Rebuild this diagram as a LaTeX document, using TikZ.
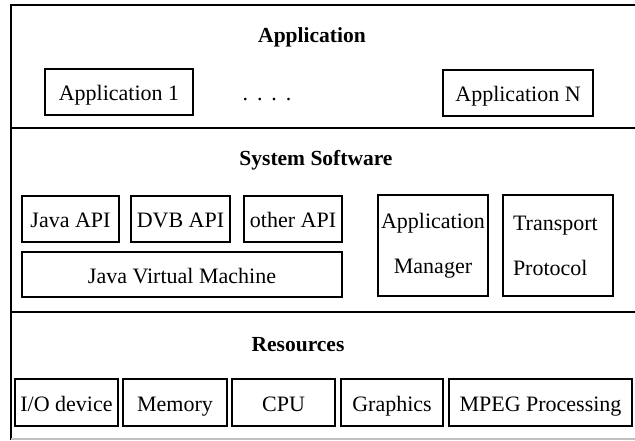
\documentclass[tikz,border=0pt]{standalone}
\usepackage{fontspec}
\setmainfont{Liberation Serif}
\tikzset{
  frameline/.style={line width=1.6pt, black},
  blk/.style={draw, line width=1.6pt, inner sep=0pt, align=center,
              font=\fontsize{22}{45}\selectfont},
  oneline/.style={text height=19pt, text depth=2pt},
  layertitle/.style={font=\fontsize{21.5}{24}\selectfont\bfseries, inner sep=0pt}
}
\begin{document}
\begin{tikzpicture}[x=1pt, y=-1pt]
\useasboundingbox (0,0) rectangle (635,440);

% layer frame
\coordinate (tl) at (11,5);
\coordinate (tr) at (635,5);
\coordinate (bl) at (11,440);
\coordinate (d1l) at (11,128);
\coordinate (d1r) at (635,128);
\coordinate (d2l) at (11,312);
\coordinate (d2r) at (635,312);
\coordinate (bbl) at (11,439);
\coordinate (bbr) at (635,439);
\draw[frameline] (tr) -- (tl) -- (bl);
\draw[frameline] (d1l) -- (d1r);
\draw[frameline] (d2l) -- (d2r);
\draw[line width=1.2pt, black!25] (bbl) -- (bbr);

% application layer
\node[layertitle] (tapp) at (312,37) {Application};
\node[blk, oneline, minimum width=148pt, minimum height=46pt] (app1) at (119,92) {Application 1};
\node[font=\fontsize{22}{24}\selectfont, inner sep=0pt] (dots) at (267,99.5)
  {.\hspace{9pt}.\hspace{9pt}.\hspace{9pt}.};
\node[blk, oneline, minimum width=150pt, minimum height=46pt] (appN) at (518,93) {Application N};

% system software layer
\node[layertitle] (tsys) at (316,160) {System Software};
\node[blk, oneline, minimum width=97pt, minimum height=46pt] (japi) at (70.5,219) {Java API};
\node[blk, oneline, minimum width=99pt, minimum height=46pt] (dvb) at (180.5,219) {DVB API};
\node[blk, oneline, minimum width=98pt, minimum height=46pt] (oapi) at (293,219) {other API};
\node[blk, oneline, minimum width=320pt, minimum height=45pt] (jvm) at (182,274.5) {Java Virtual Machine};
\node[blk, minimum width=110pt, minimum height=101pt] (amgr) at (433,245.5) {Application\\Manager};
\node[blk, minimum width=110pt, minimum height=101pt, align=left, text width=90pt] (tp) at (558,245.5) {Transport\\Protocol};

% resources layer
\node[layertitle] (tres) at (298,345) {Resources};
\node[blk, oneline, minimum width=103pt, minimum height=47pt] (io) at (66.5,402.5) {I/O device};
\node[blk, oneline, minimum width=104pt, minimum height=47pt] (mem) at (175,402.5) {Memory};
\node[blk, oneline, minimum width=103pt, minimum height=47pt] (cpu) at (283.5,402.5) {CPU};
\node[blk, oneline, minimum width=102pt, minimum height=47pt] (gfx) at (392,402.5) {Graphics};
\node[blk, oneline, minimum width=183pt, minimum height=47pt] (mpeg) at (540.5,402.5) {MPEG Processing};
\end{tikzpicture}
\end{document}
